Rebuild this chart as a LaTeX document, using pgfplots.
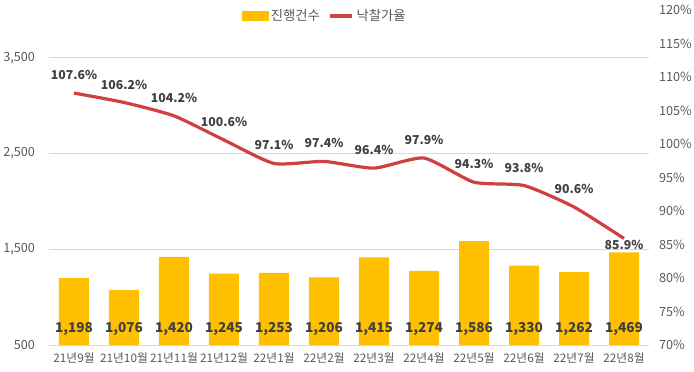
\documentclass[border=0pt]{standalone}
\usepackage{pgfplots}
\pgfplotsset{compat=1.18}
\usepackage{pgfplotstable}
\usepackage{fontspec}
\setmainfont{Noto Sans CJK KR}
\definecolor{barc}{HTML}{FFC000}
\definecolor{linec}{HTML}{D13F3F}
\definecolor{txt}{HTML}{595959}
\definecolor{lab}{HTML}{404040}
\definecolor{grd}{HTML}{D9D9D9}
\pgfplotstableread{
x y lab
0 1198 1,198
1 1076 1,076
2 1420 1,420
3 1245 1,245
4 1253 1,253
5 1206 1,206
6 1415 1,415
7 1274 1,274
8 1586 1,586
9 1330 1,330
10 1262 1,262
11 1469 1,469
}\bars
\pgfplotstableread{
x y
0 107.6
1 106.2
2 104.2
3 100.6
4 97.1
5 97.4
6 96.4
7 97.9
8 94.3
9 93.8
10 90.6
11 85.9
}\rates
\pgfplotstableread{
x y
0 107.6
1 106.2
2 104.2
3 100.6
4 97.1
5 97.4
6 96.4
7 97.9
8 94.3
9 93.8
10 90.6
}\rateslab
\pgfplotsset{base/.style={scale only axis, width=450pt, height=251.25pt,
  xmin=-0.5, xmax=11.5, clip=false,
  ticklabel style={font=\fontsize{9.5}{11}\selectfont, text=txt},
  tick style={draw=none}, axis line style={draw=none}}}
\begin{document}
\begin{tikzpicture}
\begin{axis}[base, ymin=500, ymax=4000,
  ytick={500,1500,2500,3500}, yticklabels={500,{1,500},{2,500},{3,500}},
  yticklabel style={xshift=-7pt},
  ymajorgrids, grid style={grd, line width=0.75pt},
  xtick={0,...,11},
  xticklabels={21년9월,21년10월,21년11월,21년12월,22년1월,22년2월,22년3월,22년4월,22년5월,22년6월,22년7월,22년8월},
  xticklabel style={font=\fontsize{8.8}{11}\selectfont, text=txt, yshift=-2.5pt}]
\addplot[ybar, bar width=22.5pt, fill=barc, draw=none] table[x=x,y=y]{\bars};
\addplot[draw=none, mark=none, nodes near coords, point meta=explicit symbolic,
  every node near coord/.append style={anchor=center, font=\bfseries\fontsize{10.2}{12}\selectfont, text=lab}]
  table[x=x, y expr=667, meta=lab]{\bars};
\end{axis}
\begin{axis}[base, ymin=70, ymax=120,
  ytick={70,75,...,120},
  yticklabels={70\%,75\%,80\%,85\%,90\%,95\%,100\%,105\%,110\%,115\%,120\%},
  axis y line*=right, hide x axis,
  yticklabel style={xshift=4pt},
  legend style={at={(0.46,0.982)}, anchor=center, draw=none, fill=none,
    legend columns=2, font=\fontsize{10}{12}\selectfont, text=txt,
    /tikz/every even column/.append style={column sep=4pt}}]
\addlegendimage{legend image code/.code={\fill[barc] (0pt,-3.4pt) rectangle (19.5pt,3.4pt);}}
\addlegendentry{진행건수}
\addplot[linec, line width=2.4pt, smooth, tension=0.35, mark=none] table[x=x,y=y]{\rates};
\addlegendentry{낙찰가율}
\addplot[draw=none, mark=none, nodes near coords={\pgfplotspointmeta\%}, point meta=explicit symbolic,
  every node near coord/.append style={anchor=center, yshift=13.5pt, font=\bfseries\fontsize{9.2}{11}\selectfont, text=lab}]
  table[x=x,y=y,meta=y]{\rateslab};
\addplot[draw=none, mark=none, nodes near coords={\pgfplotspointmeta\%}, point meta=explicit symbolic,
  every node near coord/.append style={anchor=center, yshift=-5pt, font=\bfseries\fontsize{9.2}{11}\selectfont, text=lab}]
  coordinates {(11,85.9) [85.9]};
\end{axis}
\pgfresetboundingbox
\path[use as bounding box] (-36.75pt,-20.25pt) rectangle (483.75pt,258.75pt);
\end{tikzpicture}
\end{document}
